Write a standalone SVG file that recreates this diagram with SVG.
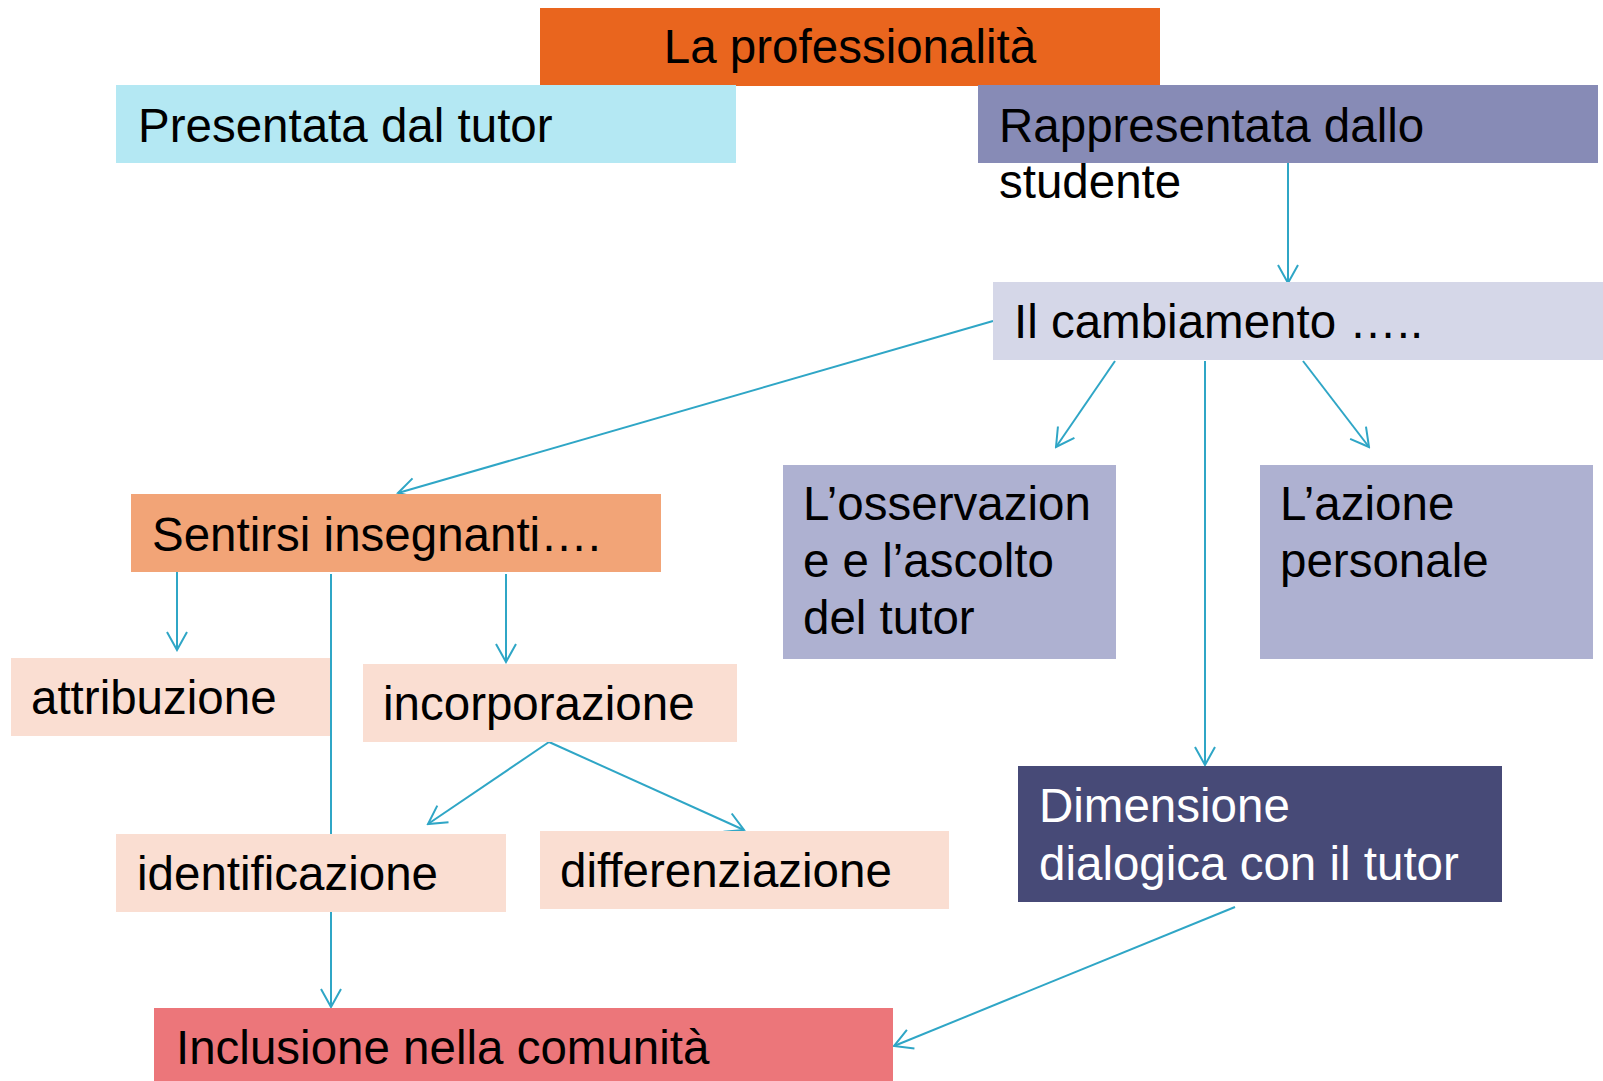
<svg xmlns="http://www.w3.org/2000/svg" width="1603" height="1081" viewBox="0 0 1603 1081">
<defs>
<style>
text{font-family:"Liberation Sans",Arial,sans-serif;font-size:47.5px;fill:#000}
.w{fill:#fff}
.c{stroke:#2FA6C6;stroke-width:2;fill:none}
</style>
<marker id="ah" markerUnits="userSpaceOnUse" viewBox="-20 -12 22 24" refX="0" refY="0" markerWidth="22" markerHeight="24" orient="auto">
<path d="M-18,-10 L0,0 L-18,10" fill="none" stroke="#2FA6C6" stroke-width="2"/>
</marker>
</defs>
<rect width="1603" height="1081" fill="#fff"/>
<g id="connectors">
<line class="c" x1="1288" y1="162" x2="1288" y2="283" marker-end="url(#ah)"/>
<line class="c" x1="993" y1="321" x2="398" y2="493" marker-end="url(#ah)"/>
<line class="c" x1="1115" y1="361" x2="1056" y2="447" marker-end="url(#ah)"/>
<line class="c" x1="1303" y1="361" x2="1369" y2="447" marker-end="url(#ah)"/>
<line class="c" x1="1205" y1="361" x2="1205" y2="765" marker-end="url(#ah)"/>
<line class="c" x1="177" y1="562" x2="177" y2="650" marker-end="url(#ah)"/>
<line class="c" x1="331" y1="574" x2="331" y2="1007" marker-end="url(#ah)"/>
<line class="c" x1="506" y1="574" x2="506" y2="662" marker-end="url(#ah)"/>
<line class="c" x1="549" y1="742" x2="428" y2="824" marker-end="url(#ah)"/>
<line class="c" x1="549" y1="742" x2="744" y2="830" marker-end="url(#ah)"/>
<line class="c" x1="1235" y1="907" x2="894" y2="1046" marker-end="url(#ah)"/>
</g>
<g id="n-top"><rect x="540" y="8" width="620" height="78" fill="#E9651E"/><text x="850" y="63" text-anchor="middle">La professionalità</text></g>
<g id="n-presentata"><rect x="116" y="85" width="620" height="78" fill="#B4E8F3"/><text x="138" y="142">Presentata dal tutor</text></g>
<g id="n-rappresentata"><rect x="978" y="85" width="620" height="78" fill="#878BB6"/><text x="999" y="142">Rappresentata dallo</text><text x="999" y="198">studente</text></g>
<g id="n-cambiamento"><rect x="993" y="282" width="610" height="78" fill="#D5D7E8"/><text x="1014" y="338">Il cambiamento …..</text></g>
<g id="n-osservazione"><rect x="783" y="465" width="333" height="194" fill="#AEB1D1"/><text x="803" y="520">L’osservazion</text><text x="803" y="577">e e l’ascolto</text><text x="803" y="634">del tutor</text></g>
<g id="n-azione"><rect x="1260" y="465" width="333" height="194" fill="#AEB1D1"/><text x="1280" y="520">L’azione</text><text x="1280" y="577">personale</text></g>
<g id="n-sentirsi"><rect x="131" y="494" width="530" height="78" fill="#F2A477"/><text x="152" y="551">Sentirsi insegnanti….</text></g>
<g id="n-attribuzione"><rect x="11" y="658" width="319" height="78" fill="#FADED2"/><text x="31" y="714">attribuzione</text></g>
<g id="n-incorporazione"><rect x="363" y="664" width="374" height="78" fill="#FADED2"/><text x="383" y="720">incorporazione</text></g>
<g id="n-identificazione"><rect x="116" y="834" width="390" height="78" fill="#FADED2"/><text x="137" y="890">identificazione</text></g>
<g id="n-differenziazione"><rect x="540" y="831" width="409" height="78" fill="#FADED2"/><text x="560" y="887">differenziazione</text></g>
<g id="n-dimensione"><rect x="1018" y="766" width="484" height="136" fill="#474A77"/><text class="w" x="1039" y="822">Dimensione</text><text class="w" x="1039" y="880">dialogica con il tutor</text></g>
<g id="n-inclusione"><rect x="154" y="1008" width="739" height="73" fill="#EC767A"/><text x="176" y="1064">Inclusione nella comunità</text></g>
</svg>
